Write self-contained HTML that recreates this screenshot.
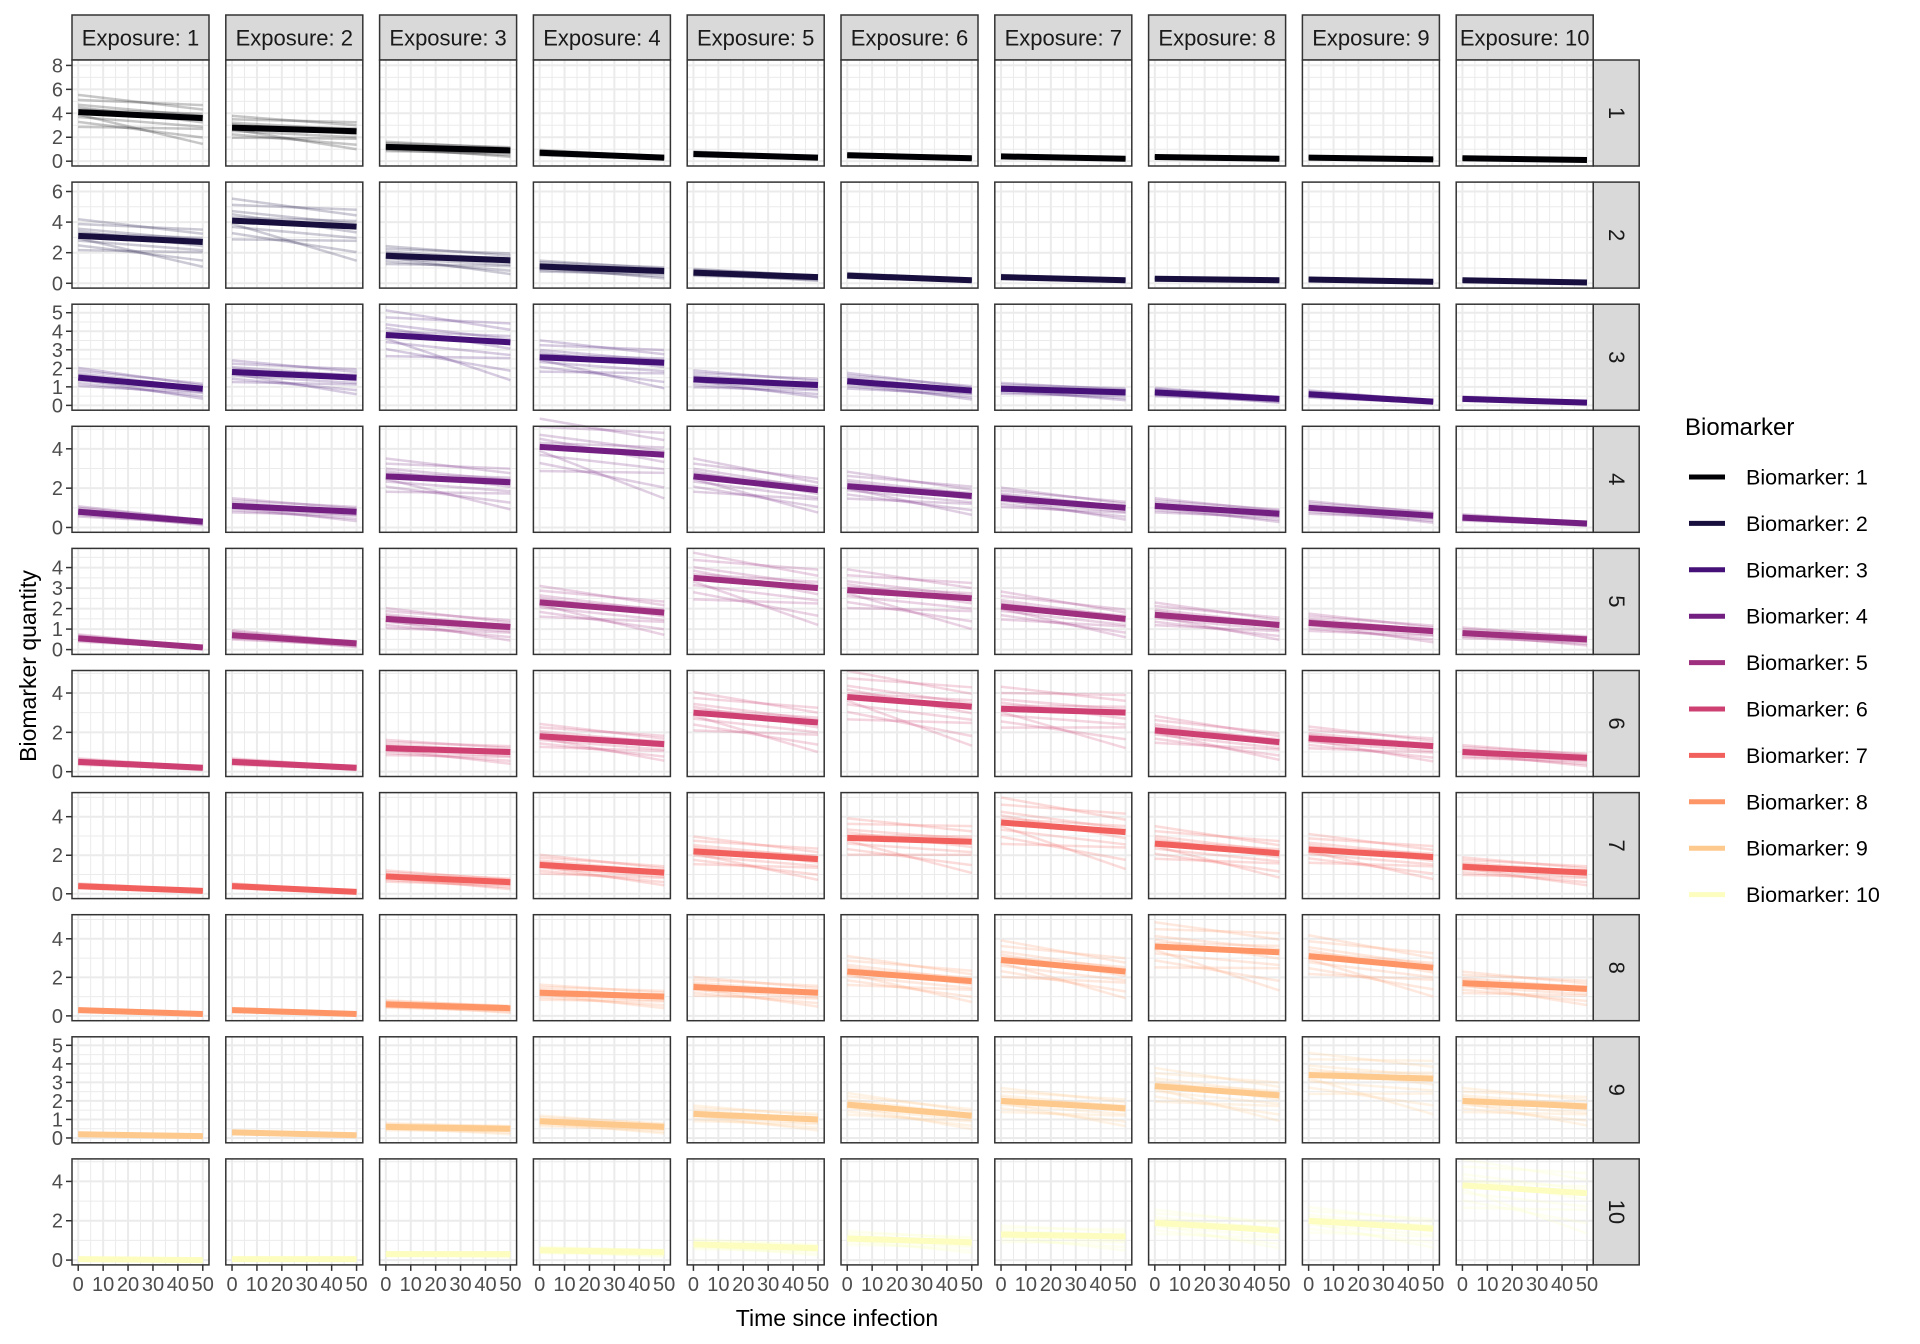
<!DOCTYPE html>
<html><head><meta charset="utf-8"><style>
html,body{margin:0;padding:0;background:#fff;}
svg{display:block;font-family:"Liberation Sans",Arial,sans-serif;}
</style></head><body>
<svg id="chart" width="1920" height="1344" viewBox="0 0 1920 1344" xmlns="http://www.w3.org/2000/svg">
<rect width="1920" height="1344" fill="#fff"/>
<g id="panels"></g>
<text x="837" y="1326" font-size="23" text-anchor="middle" fill="#000">Time since infection</text>
<text transform="translate(36,666) rotate(-90)" font-size="23" text-anchor="middle" fill="#000">Biomarker quantity</text>
<g id="legend"></g>
</svg>
<script>
const exposures = [1,2,3,4,5,6,7,8,9,10];
const biomarkers = [1,2,3,4,5,6,7,8,9,10];
const colors = ["#000004","#180F3E","#451077","#721F81","#9F2F7F","#CD4071","#F1605D","#FD9567","#FEC98D","#FCFDBF"];
const xTicks = [0,10,20,30,40,50];
const rowMax = [8.05,6.3,5.2,4.9,4.7,4.9,5.0,5.0,5.2,4.9];
const rowTickStep = [2,2,1,2,1,2,2,2,1,2];
// main-line values at t=0 per biomarker row (across exposures)
const mainStart = [
 [4.1,2.8,1.2,0.7,0.6,0.5,0.4,0.35,0.3,0.25],
 [3.1,4.1,1.8,1.1,0.7,0.5,0.4,0.3,0.25,0.2],
 [1.5,1.8,3.8,2.6,1.4,1.3,0.9,0.7,0.6,0.35],
 [0.8,1.1,2.6,4.1,2.6,2.1,1.5,1.1,1.0,0.5],
 [0.55,0.7,1.5,2.3,3.5,2.9,2.1,1.7,1.3,0.8],
 [0.5,0.5,1.2,1.8,3.0,3.8,3.2,2.1,1.7,1.0],
 [0.4,0.4,0.9,1.5,2.2,2.9,3.7,2.6,2.3,1.4],
 [0.3,0.3,0.6,1.2,1.5,2.3,2.9,3.6,3.1,1.7],
 [0.2,0.3,0.6,0.9,1.3,1.8,2.0,2.8,3.4,2.0],
 [0.05,0.05,0.3,0.5,0.8,1.1,1.3,1.9,2.0,3.8]
];
// main-line values at t=50
const mainEnd = [
 [3.6,2.5,0.9,0.3,0.3,0.25,0.2,0.2,0.15,0.1],
 [2.7,3.7,1.5,0.8,0.4,0.2,0.2,0.2,0.1,0.05],
 [0.9,1.5,3.4,2.3,1.1,0.8,0.7,0.35,0.2,0.15],
 [0.3,0.8,2.3,3.7,1.9,1.6,1.0,0.7,0.6,0.2],
 [0.1,0.3,1.1,1.8,3.0,2.5,1.5,1.2,0.9,0.5],
 [0.2,0.2,1.0,1.4,2.5,3.3,3.0,1.5,1.3,0.7],
 [0.15,0.1,0.6,1.1,1.8,2.7,3.2,2.1,1.9,1.1],
 [0.1,0.1,0.4,1.0,1.2,1.8,2.3,3.3,2.5,1.4],
 [0.1,0.15,0.5,0.6,1.0,1.2,1.6,2.3,3.2,1.7],
 [0.0,0.05,0.3,0.4,0.6,0.9,1.2,1.5,1.6,3.4]
];
// relative offsets of individual faint lines (start, end) vs main line
const indivStartRel = [0.25,0.15,-0.1,-0.2,0.05,-0.3,0.35,-0.05,0.1];
const indivEndRel = [0.3,0.05,-0.2,-0.45,0.1,-0.25,0.2,-0.6,-0.1];

const NS="http://www.w3.org/2000/svg";
const P0X=72, PITCHX=153.8, PW=137, P0Y=60, PITCHY=122.1, PH=106;
function mk(tag,attrs,parent){const e=document.createElementNS(NS,tag);for(const k in attrs)e.setAttribute(k,attrs[k]);parent.appendChild(e);return e;}
function xScale(c,v){const x0=P0X+c*PITCHX;return x0+(v+2.5)/55*PW;}
function yScale(r,v){const y0=P0Y+r*PITCHY;const M=rowMax[r];const lo=-0.05*M,hi=1.05*M;return y0+PH-(v-lo)/(hi-lo)*PH;}
const root=document.getElementById('panels');

exposures.forEach((e,c)=>{
  const g=mk('g',{},root);
  
  
  const x0=P0X+c*PITCHX;
  mk('rect',{x:x0,y:15,width:PW,height:45,fill:'#D9D9D9',stroke:'#333',"stroke-width":1.5},g);
  const t=mk('text',{x:x0+PW/2,y:45.5,"font-size":22,"text-anchor":"middle",fill:'#1A1A1A'},g);
  t.textContent='Exposure: '+e;
});
biomarkers.forEach((b,r)=>{
  const g=mk('g',{},root);
  
  
  const y0=P0Y+r*PITCHY, x0=P0X+9*PITCHX+PW;
  mk('rect',{x:x0,y:y0,width:46,height:PH,fill:'#D9D9D9',stroke:'#333',"stroke-width":1.5},g);
  const t=mk('text',{x:0,y:0,"font-size":22,"text-anchor":"middle",fill:'#1A1A1A',transform:`translate(${x0+16},${y0+PH/2}) rotate(90)`},g);
  t.textContent=b;
});

for(let r=0;r<10;r++){
  const M=rowMax[r], st=rowTickStep[r];
  const yt=[];for(let v=0;v<=M+1e-9;v+=st)yt.push(v);
  const ya=mk('g',{},root);
  
  
  yt.forEach(v=>{const y=yScale(r,v);
    mk('line',{x1:66,x2:72,y1:y,y2:y,stroke:'#333',"stroke-width":1.5},ya);
    const t=mk('text',{x:63,y:y+7,"font-size":20,"text-anchor":"end",fill:'#4D4D4D'},ya);t.textContent=v;});
  for(let c=0;c<10;c++){
    const g=mk('g',{},root);
    
    
    const x0=P0X+c*PITCHX,y0=P0Y+r*PITCHY;
    mk('rect',{x:x0,y:y0,width:PW,height:PH,fill:'#fff'},g);
    for(let v=5;v<50;v+=10){const x=xScale(c,v);mk('line',{x1:x,x2:x,y1:y0,y2:y0+PH,stroke:'#EBEBEB',"stroke-width":1},g);}
    for(let v=st/2;v<=1.05*M;v+=st){const y=yScale(r,v);mk('line',{x1:x0,x2:x0+PW,y1:y,y2:y,stroke:'#EBEBEB',"stroke-width":1},g);}
    xTicks.forEach(v=>{const x=xScale(c,v);mk('line',{x1:x,x2:x,y1:y0,y2:y0+PH,stroke:'#EBEBEB',"stroke-width":2},g);});
    yt.forEach(v=>{const y=yScale(r,v);mk('line',{x1:x0,x2:x0+PW,y1:y,y2:y,stroke:'#EBEBEB',"stroke-width":2},g);});
    const col=colors[r];
    const s=mainStart[r][c], e=mainEnd[r][c];
    for(let i=0;i<indivStartRel.length;i++){
      const vs=Math.max(0,s*(1+indivStartRel[i])), ve=Math.max(0,e*(1+indivEndRel[i]));
      const l=mk('line',{x1:xScale(c,0),x2:xScale(c,50),y1:yScale(r,vs),y2:yScale(r,ve),stroke:col,"stroke-width":2.5,"stroke-opacity":0.22},g);
      
      
    }
    const ml=mk('line',{x1:xScale(c,0),x2:xScale(c,50),y1:yScale(r,s),y2:yScale(r,e),stroke:col,"stroke-width":6},g);
    
    
    mk('rect',{x:x0,y:y0,width:PW,height:PH,fill:'none',stroke:'#333',"stroke-width":1.5},g);
  }
}
for(let c=0;c<10;c++){
  const g=mk('g',{},root);
  
  
  const yb=P0Y+9*PITCHY+PH;
  xTicks.forEach(v=>{const x=xScale(c,v);
    mk('line',{x1:x,x2:x,y1:yb,y2:yb+6,stroke:'#333',"stroke-width":1.5},g);
    const t=mk('text',{x:x,y:yb+26,"font-size":20,"text-anchor":"middle",fill:'#4D4D4D'},g);t.textContent=v;});
}
const lg=document.getElementById('legend');
const lt=mk('text',{x:1685,y:435,"font-size":24,fill:'#000'},lg);lt.textContent='Biomarker';
biomarkers.forEach((b,i)=>{
  const g=mk('g',{},lg);
  
  
  const y=477+i*46.4;
  mk('line',{x1:1689,x2:1725,y1:y,y2:y,stroke:colors[i],"stroke-width":5},g);
  const t=mk('text',{x:1746,y:y+7.5,"font-size":21.5,fill:'#000'},g);t.textContent='Biomarker: '+b;
});
</script>
</body></html>
